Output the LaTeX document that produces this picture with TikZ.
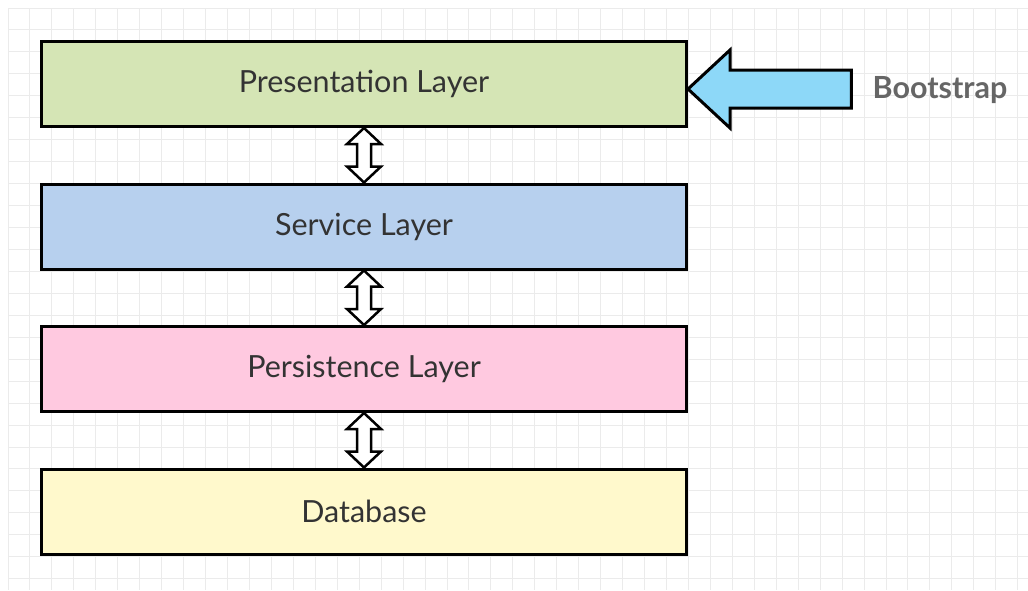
\documentclass[tikz,border=0pt]{standalone}
\usepackage{fontspec}
\setmainfont{Lato}
\usetikzlibrary{positioning, calc}
\definecolor{PresGreen}{HTML}{D5E5B5}
\definecolor{ServBlue}{HTML}{B7D0EE}
\definecolor{PersPink}{HTML}{FFC9E0}
\definecolor{DbYellow}{HTML}{FFF9CC}
\definecolor{BootBlue}{HTML}{8DD8F8}
\definecolor{GridGray}{HTML}{EBEBEB}
\definecolor{LabelGray}{HTML}{333333}
\definecolor{BootGray}{HTML}{666666}

% hollow up/down arrow between two stacked layers
\newcommand{\linkarrow}[2]{%
  \draw[hollow] (#1.south) -- ++(17,16) -- ++(-10,0)
    -- ($(#2.north)+(7,-16)$) -- ++(10,0) -- (#2.north)
    -- ++(-17,-16) -- ++(10,0) -- ($(#1.south)+(-7,16)$)
    -- ++(-10,0) -- cycle;
}

\begin{document}
\begin{tikzpicture}[x=1pt, y=-1pt,
    layer/.style={draw=black, line width=3pt, minimum width=645pt,
      minimum height=85pt, text=LabelGray, font=\fontsize{30.5}{34}\selectfont},
    hollow/.style={draw=black, line width=2.5pt, fill=white, line join=miter}]
  \useasboundingbox (0,0) rectangle (1028,590);
  % grid
  \foreach \i in {0,...,46} {
    \pgfmathsetmacro{\x}{8 + 21.95*\i}
    \draw[GridGray, line width=1pt] (\x, 8) -- (\x, 590);
  }
  \foreach \j in {0,...,26} {
    \pgfmathsetmacro{\y}{8 + 21.95*\j}
    \draw[GridGray, line width=1pt] (8, \y) -- (1028, \y);
  }
  % layers
  \node[layer, fill=PresGreen] (pres) at (364,84) {Presentation Layer};
  \node[layer, fill=ServBlue, below=54.5pt of pres] (serv) {Service Layer};
  \node[layer, fill=PersPink, below=54.5pt of serv] (pers) {Persistence Layer};
  \node[layer, fill=DbYellow, below=54.5pt of pers] (db) {Database};
  \linkarrow{pres}{serv}
  \linkarrow{serv}{pers}
  \linkarrow{pers}{db}
  % bootstrap
  \node[inner sep=0pt, text=BootGray, font=\fontsize{30.5}{34}\selectfont\bfseries] (boot) at (940,90) {Bootstrap};
  \coordinate (tip) at ($(pres.east)+(0,5)$);
  \coordinate (tail) at ($(boot.west)+(-21,-1)$);
  \draw[hollow, line width=3pt, fill=BootBlue] (tip) -- ++(42,-39) -- ++(0,20)
    -- ($(tail)+(0,-19)$) -- ($(tail)+(0,19)$) -- ($(tip)+(42,19)$)
    -- ++(0,20) -- cycle;
\end{tikzpicture}
\end{document}
